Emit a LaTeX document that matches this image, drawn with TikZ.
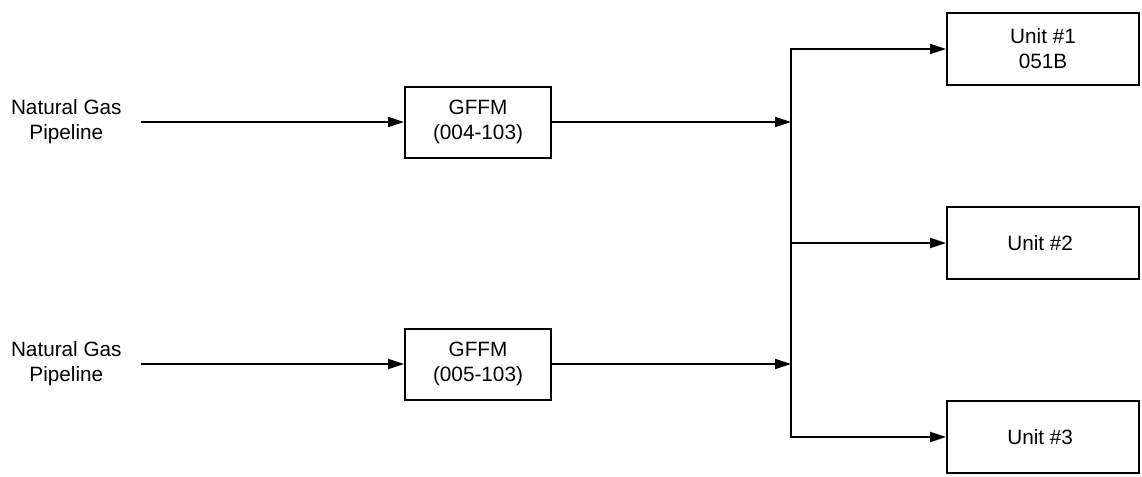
\documentclass[tikz,border=0pt]{standalone}
\usepackage{fontspec}
\setmainfont{Liberation Sans}
\usepackage {tikz}
\usetikzlibrary {positioning}
\usetikzlibrary{arrows.meta}

\tikzset{
    meter/.style={draw, rectangle, line width=0.4mm, align=center, minimum width=2.92cm, minimum height=1.42cm},
    unitbox/.style={draw, rectangle, line width=0.4mm, align=center, minimum width=3.84cm, minimum height=1.44cm},
    source/.style={align=center, inner xsep=0.38cm, inner ysep=0pt},
    flow/.style={->, line width=0.4mm}
}

\begin{document}
\begin{tikzpicture}[>={Triangle[length=3.2mm, width=2mm]},
    font=\fontsize{11.8pt}{14.2pt}\selectfont]

    \useasboundingbox (-9.56,2.44) rectangle (13.28,-7.08);

    \node[meter] (gffmA) { GFFM\\(004-103) };
    \node[meter, below=3.38cm of gffmA] (gffmB) { GFFM\\(005-103) };

    \node[source, left=5.26cm of gffmA] (pipeA) { Natural Gas\\Pipeline };
    \node[source, left=5.26cm of gffmB] (pipeB) { Natural Gas\\Pipeline };

    \coordinate[right=4.78cm of gffmA] (joinA);
    \coordinate[right=4.78cm of gffmB] (joinB);

    \path (joinA) -- (joinB) coordinate[midway] (midpoint);

    \node[unitbox, right=3.1cm of midpoint] (unit2) { Unit \#2 };
    \node[unitbox, above=2.4cm of unit2] (unit1) { Unit \#1\\051B };
    \node[unitbox, below=2.4cm of unit2] (unit3) { Unit \#3 };

    \coordinate (trunkTop) at (midpoint |- unit1.west);
    \coordinate (trunkBot) at (midpoint |- unit3.west);

    \draw[flow] (pipeA) -- (gffmA);
    \draw[flow] (pipeB) -- (gffmB);
    \draw[flow] (gffmA) -- (joinA);
    \draw[flow] (gffmB) -- (joinB);
    \draw[flow] (midpoint) -- (unit2);
    \draw[flow, <->] (unit1) -- (trunkTop) -- (trunkBot) -- (unit3);

\end{tikzpicture}
\end{document}
